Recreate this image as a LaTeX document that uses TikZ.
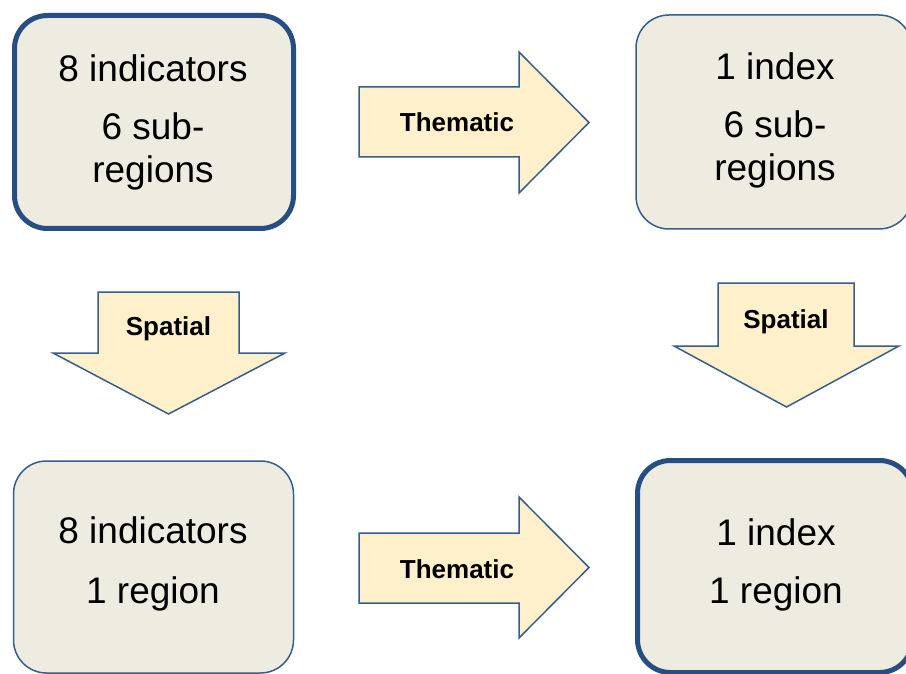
\documentclass[tikz,border=0pt]{standalone}
\usepackage{fontspec}
\setmainfont{Liberation Sans}
\usepackage{xcolor}
\usepackage{tikz}

\definecolor{boxfill}{HTML}{EEECE1}
\definecolor{boxedge}{HTML}{385D8A}
\definecolor{boxedgedark}{HTML}{264E82}
\definecolor{arrowfill}{HTML}{FDF0CB}

\begin{document}
\begin{tikzpicture}[x=1pt, y=-1pt,
    box/.style={draw=boxedge, fill=boxfill, line width=1.5pt, rounded corners=33pt,
      inner sep=0pt, outer sep=0pt},
    boxthick/.style={box, draw=boxedgedark, line width=5pt},
    boxtext/.style={anchor=base, inner sep=0pt, font=\fontsize{37}{37}\selectfont},
    blockarrow/.style={draw=boxedge, fill=arrowfill, line width=1.5pt, line join=miter},
    arrowtext/.style={anchor=base, inner sep=0pt, font=\fontsize{26}{26}\selectfont\bfseries}]
  \useasboundingbox (0,0) rectangle (906,674);
  % the four stages
  \node[boxthick, minimum width=279pt, minimum height=213pt] (indsub) at (154,122) {};
  \node[box, minimum width=276pt, minimum height=214pt] (idxsub) at (774,122) {};
  \node[box, minimum width=280pt, minimum height=212pt] (indreg) at (153.5,567) {};
  \node[boxthick, minimum width=275pt, minimum height=212pt] (idxreg) at (775,566.5) {};
  \node[boxtext] (indsub1) at (153,82) {8 indicators};
  \node[boxtext] (indsub2) at (153,140) {6 sub-};
  \node[boxtext] (indsub3) at (153,183) {regions};
  \node[boxtext] (idxsub1) at (775,80) {1 index};
  \node[boxtext] (idxsub2) at (775,138) {6 sub-};
  \node[boxtext] (idxsub3) at (775,181) {regions};
  \node[boxtext] (indreg1) at (153,543) {8 indicators};
  \node[boxtext] (indreg2) at (153,603) {1 region};
  \node[boxtext] (idxreg1) at (776,545) {1 index};
  \node[boxtext] (idxreg2) at (776,603) {1 region};
  % thematic aggregation, left to right
  \draw[blockarrow] (359,87) -- (519,87) -- (519,52) -- (589,122.5) -- (519,193) -- (519,157) -- (359,157) -- cycle;
  \node[arrowtext] (them1) at (457,132) {Thematic};
  \draw[blockarrow] (359,533) -- (519,533) -- (519,497) -- (589,567.5) -- (519,638) -- (519,603) -- (359,603) -- cycle;
  \node[arrowtext] (them2) at (457,578) {Thematic};
  % spatial aggregation, top to bottom
  \draw[blockarrow] (98,292) -- (239,292) -- (239,353) -- (285,353) -- (168.5,414) -- (53,353) -- (98,353) -- cycle;
  \node[arrowtext] (spat1) at (168.5,335) {Spatial};
  \draw[blockarrow] (718,283) -- (854,283) -- (854,346) -- (899,346) -- (786.5,407) -- (674,346) -- (718,346) -- cycle;
  \node[arrowtext] (spat2) at (786,328) {Spatial};
\end{tikzpicture}
\end{document}
